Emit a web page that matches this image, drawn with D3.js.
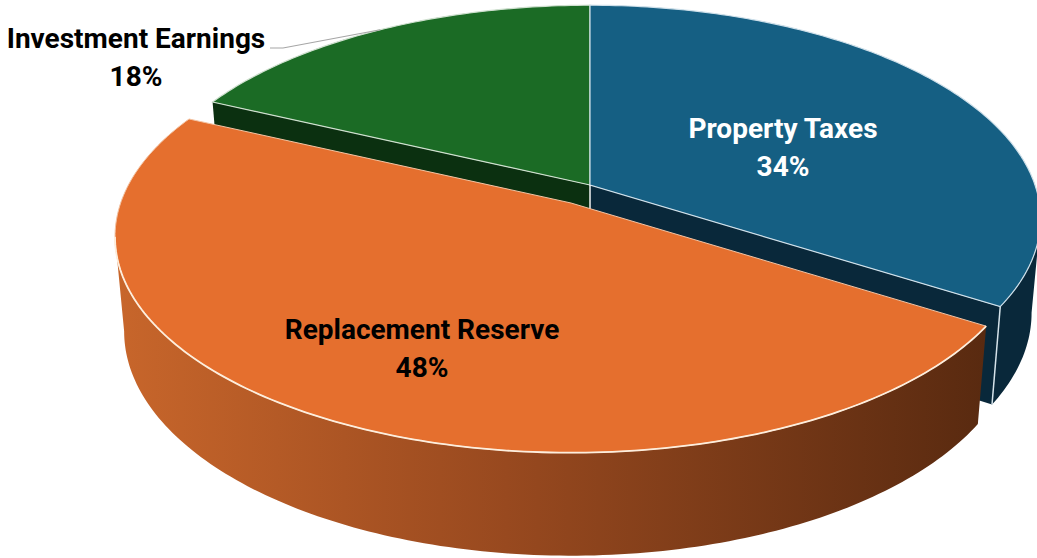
<!DOCTYPE html>
<html>
<head>
<meta charset="utf-8">
<script src="https://cdn.jsdelivr.net/npm/d3@7"></script>
<style>
html, body { margin: 0; padding: 0; background: #fff; overflow: hidden; }
text { font-family: "Roboto", sans-serif; font-weight: 700; font-size: 28px; }
</style>
</head>
<body>
<svg id="chart" width="1037" height="558"></svg>
<script>
var categories = ["Property Taxes", "Replacement Reserve", "Investment Earnings"];
var values = [34, 48, 18];
var topColors = ["#155f83", "#e56f2e", "#1b6b25"];
var cutColors = ["#09283a", "#5c2c10", "#0b3010"];
var labelColors = ["#fff", "#000", "#000"];

// disc geometry
var cx = 590, cy = 185;
var radX = 445, radY = 208, persp = 0.157;
var depth = 93, shrinkX = 0.98, growY = 1.04;
// only the orange slice is pulled out, and it sits a bit nearer so it is bigger
var shiftX = [0, -19, 0], shiftY = [0, 18, 0], zoomBy = [1, 1.012, 1];
var sideFrom = Math.PI - Math.acos(persp), sideTo = Math.PI + Math.acos(persp);

var svg = d3.select("#chart");

var pie = d3.pie().sort(null).value(function (d) { return d; });
var arcs = pie(values);

// point on the top of the disc, a is clockwise from 12 o'clock
function topPoint(i, a, r) {
    var u = Math.sin(a) * r, v = -Math.cos(a) * r;
    var w = 1 - persp * v;
    return [cx + shiftX[i] + zoomBy[i] * radX * u / w, cy + shiftY[i] + zoomBy[i] * radY * v / w];
}

function bottomOf(i, p) {
    var ox = cx + shiftX[i], oy = cy + shiftY[i];
    return [ox + (p[0] - ox) * shrinkX, oy + (p[1] - oy) * growY + depth];
}

function sample(a0, a1) {
    var n = Math.max(2, Math.ceil(Math.abs(a1 - a0) * 60));
    return d3.range(n + 1).map(function (k) { return a0 + (a1 - a0) * k / n; });
}

var line = d3.line();

function topPath(i) {
    var pts = sample(arcs[i].startAngle, arcs[i].endAngle).map(function (a) { return topPoint(i, a, 1); });
    pts.unshift(topPoint(i, 0, 0));
    return line(pts) + "Z";
}

function wallPath(i, a0, a1) {
    var upper = sample(a0, a1).map(function (a) { return topPoint(i, a, 1); });
    var lower = upper.map(function (p) { return bottomOf(i, p); }).reverse();
    return line(upper.concat(lower)) + "Z";
}

function cutPath(i, a) {
    var c = topPoint(i, 0, 0), e = topPoint(i, a, 1);
    return line([c, e, bottomOf(i, e), bottomOf(i, c)]) + "Z";
}

var defs = svg.append("defs");
var grad = defs.append("linearGradient")
    .attr("id", "orangeSide")
    .attr("gradientUnits", "userSpaceOnUse")
    .attr("x1", 115).attr("x2", 985).attr("y1", 0).attr("y2", 0);
grad.append("stop").attr("offset", "0").attr("stop-color", "#c8662b");
grad.append("stop").attr("offset", "0.45").attr("stop-color", "#98491f");
grad.append("stop").attr("offset", "1").attr("stop-color", "#592a10");

// back faces first
svg.append("path").attr("d", cutPath(2, arcs[2].startAngle)).attr("fill", cutColors[2]);
svg.append("path").attr("d", cutPath(0, arcs[0].endAngle)).attr("fill", cutColors[0]);
svg.append("path").attr("d", wallPath(0, sideFrom, arcs[0].endAngle)).attr("fill", cutColors[0]);

svg.append("path").attr("d", topPath(2)).attr("fill", topColors[2])
    .attr("stroke", "#cfe0cf").attr("stroke-width", 1.2);
svg.append("path").attr("d", topPath(0)).attr("fill", topColors[0])
    .attr("stroke", "#cfe0ea").attr("stroke-width", 1.2);

// light edges on the blue block
var blueEnd = topPoint(0, arcs[0].endAngle, 1);
var blueC = topPoint(0, 0, 0);
svg.append("path").attr("d", line([blueEnd, bottomOf(0, blueEnd)]))
    .attr("stroke", "#d5e3ea").attr("stroke-width", 1.5).attr("fill", "none");
svg.append("path").attr("d", line([blueC, bottomOf(0, blueC)]))
    .attr("stroke", "#f2f2f2").attr("stroke-width", 1.5).attr("fill", "none");

// orange block in front of everything
svg.append("path").attr("d", wallPath(1, arcs[1].startAngle, sideTo)).attr("fill", "url(#orangeSide)");
svg.append("path").attr("d", topPath(1)).attr("fill", topColors[1])
    .attr("stroke", "#f3c4a4").attr("stroke-width", 1);
// brighter rim along the front of the orange top
svg.append("path")
    .attr("d", line(sample(arcs[1].startAngle, sideTo).map(function (a) { return topPoint(1, a, 1); })))
    .attr("fill", "none").attr("stroke", "#fdeedd").attr("stroke-width", 1.8);

// leader for the outside label
svg.append("path")
    .attr("d", line([[270, 48], [283, 48], topPoint(2, 5.72, 1)]))
    .attr("fill", "none").attr("stroke", "#a6a6a6").attr("stroke-width", 1.2);

var labelSpots = [[783, 138], [422, 339], [136, 48]];
labelSpots.forEach(function (s, i) {
    var t = svg.append("text").attr("text-anchor", "middle").attr("fill", labelColors[i]);
    t.append("tspan").attr("x", s[0]).attr("y", s[1]).text(categories[i]);
    t.append("tspan").attr("x", s[0]).attr("y", s[1] + 38).text(values[i] + "%");
});
</script>
</body>
</html>
